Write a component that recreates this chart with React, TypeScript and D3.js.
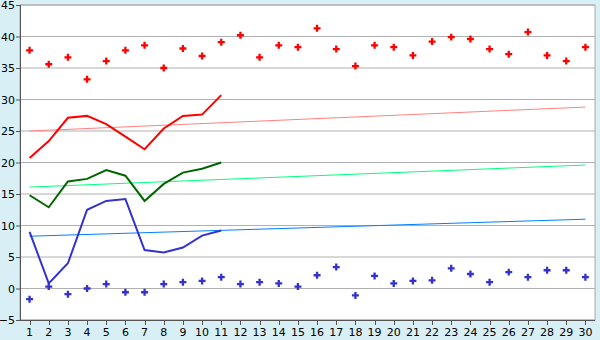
import React from "react";
import * as d3 from "d3";

const days = d3.range(1, 31).map(String);
const yTicks = [-5, 0, 5, 10, 15, 20, 25, 30, 35, 40, 45];

const recordMax = [37.8, 35.6, 36.7, 33.2, 36.1, 37.8, 38.6, 35.0, 38.1, 36.9, 39.1, 40.2, 36.7, 38.6, 38.3,
  41.3, 38.0, 35.3, 38.6, 38.3, 37.0, 39.2, 39.9, 39.6, 38.0, 37.2, 40.7, 37.0, 36.1, 38.3];
const recordMin = [-1.7, 0.3, -0.9, 0.0, 0.7, -0.6, -0.6, 0.7, 1.0, 1.2, 1.8, 0.7, 1.0, 0.8, 0.3,
  2.1, 3.4, -1.1, 2.0, 0.8, 1.2, 1.3, 3.2, 2.3, 1.0, 2.6, 1.8, 2.9, 2.9, 1.8];
const maxTemp = [20.7, 23.4, 27.1, 27.4, 26.1, 24.1, 22.1, 25.4, 27.4, 27.6, 30.7];
const meanTemp = [14.8, 12.9, 17.0, 17.4, 18.8, 17.9, 13.9, 16.6, 18.4, 19.0, 20.0];
const minTemp = [9.0, 0.8, 4.0, 12.5, 13.9, 14.2, 6.1, 5.7, 6.5, 8.4, 9.2];
const maxTrend = [25.0, 28.8];
const meanTrend = [16.1, 19.6];
const minTrend = [8.3, 11.0];

const W = 600, H = 340;
const left = 20, right = 595, top = 5, bottom = 320;

export default function App() {
  const x = d3.scaleBand<string>().domain(days).range([left, right]);
  const cx = (i: number) => (x(days[i]) as number) + x.bandwidth() / 2;
  const y = d3.scaleLinear().domain([-5, 45]).range([bottom, top]);
  const line = d3.line<number>().x((_, i) => cx(i)).y((d) => y(d));
  const trend = (t: number[]) => `M${cx(0)},${y(t[0])}L${cx(29)},${y(t[1])}`;
  const cross = d3.symbol().type(d3.symbolCross).size(27)() as string;
  const font = "DejaVu Sans, Verdana, sans-serif";
  return (
    <div style={{ position: "fixed", left: 0, top: 0 }}>
      <svg width={W} height={H} style={{ display: "block" }}>
        <rect x={0} y={0} width={W} height={H} fill="#d9eff6" />
        <rect x={left} y={top} width={right - left} height={bottom - top} fill="#ffffff" stroke="#a8a8a8" />
        {yTicks.map((t) => (
          <line key={t} x1={left} x2={right} y1={y(t)} y2={y(t)} stroke="#b0b0b0" />
        ))}
        <path d={trend(maxTrend)} stroke="#ff8080" fill="none" strokeWidth={1} />
        <path d={trend(meanTrend)} stroke="#00ff80" fill="none" strokeWidth={1} />
        <path d={trend(minTrend)} stroke="#0080ff" fill="none" strokeWidth={1} />
        <path d={line(maxTemp) as string} stroke="#ff0000" fill="none" strokeWidth={2} />
        <path d={line(meanTemp) as string} stroke="#006600" fill="none" strokeWidth={2} />
        <path d={line(minTemp) as string} stroke="#3333cc" fill="none" strokeWidth={2} />
        {recordMax.map((v, i) => (
          <path key={"a" + i} d={cross} transform={`translate(${cx(i)},${y(v)})`} fill="#ff0000" />
        ))}
        {recordMin.map((v, i) => (
          <path key={"b" + i} d={cross} transform={`translate(${cx(i)},${y(v)})`} fill="#3333cc" />
        ))}
        <line x1={left + 0.5} x2={left + 0.5} y1={top} y2={bottom} stroke="#555" />
        <line x1={left} x2={right} y1={bottom + 0.5} y2={bottom + 0.5} stroke="#555" />
        {yTicks.map((t) => (
          <g key={"yt" + t}>
            <line x1={left - 4} x2={left} y1={y(t) + 0.5} y2={y(t) + 0.5} stroke="#555" />
            <text x={left - 5} y={y(t) + 4} textAnchor="end" fontSize={11} fontFamily={font} fill="#000">
              {t < 0 ? "\u2212" + Math.abs(t) : t}
            </text>
          </g>
        ))}
        {days.map((d, i) => (
          <g key={"xt" + d}>
            <line x1={Math.round(cx(i)) + 0.5} x2={Math.round(cx(i)) + 0.5} y1={bottom} y2={bottom + 5} stroke="#555" />
            <text x={cx(i)} y={336} textAnchor="middle" fontSize={11} fontFamily={font} fill="#000">
              {d}
            </text>
          </g>
        ))}
      </svg>
    </div>
  );
}
